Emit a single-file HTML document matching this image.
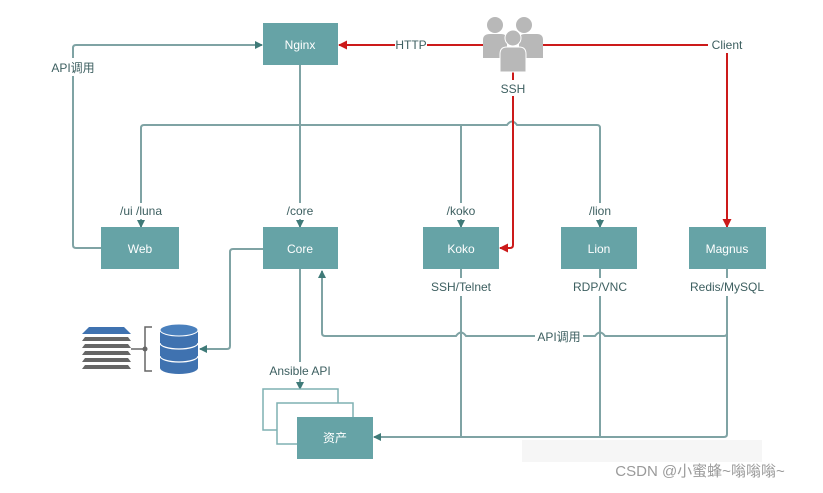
<!DOCTYPE html>
<html><head><meta charset="utf-8"><style>
html,body{margin:0;padding:0;background:#fff;}
svg{display:block;}
text{font-family:"Liberation Sans","Noto Sans CJK SC",sans-serif;}
</style></head><body>
<svg width="823" height="493" viewBox="0 0 823 493" xmlns="http://www.w3.org/2000/svg">
<defs>
<marker id="ag" markerWidth="8" markerHeight="8" refX="7" refY="4" orient="auto" markerUnits="userSpaceOnUse"><path d="M0,0 L8,4 L0,8 z" fill="#3f7a78"/></marker>
<marker id="ar" markerWidth="9" markerHeight="9" refX="8" refY="4.5" orient="auto" markerUnits="userSpaceOnUse"><path d="M0,0 L9,4.5 L0,9 z" fill="#cc1a1a"/></marker>
</defs>
<g fill="none" stroke="#7fa3a4" stroke-width="2">
<line x1="300" y1="65" x2="300" y2="125"/>
<path d="M141,203 L141,128 Q141,125 144,125 L507,125 Q512,118 517,125 L597,125 Q600,125 600,128 L600,203"/>
<line x1="300" y1="125" x2="300" y2="203"/>
<line x1="461" y1="125" x2="461" y2="203"/>
<line x1="141" y1="219" x2="141" y2="227" marker-end="url(#ag)"/>
<line x1="300" y1="219" x2="300" y2="227" marker-end="url(#ag)"/>
<line x1="461" y1="219" x2="461" y2="227" marker-end="url(#ag)"/>
<line x1="600" y1="219" x2="600" y2="227" marker-end="url(#ag)"/>
<path d="M101,248 L76,248 Q73,248 73,245 L73,48 Q73,45 76,45 L262,45" marker-end="url(#ag)"/>
<path d="M263,249 L233,249 Q230,249 230,252 L230,346 Q230,349 227,349 L200,349" marker-end="url(#ag)"/>
<line x1="300" y1="269" x2="300" y2="362"/>
<line x1="300" y1="378" x2="300" y2="389" marker-end="url(#ag)"/>
<path d="M727,296 L727,333 Q727,336 724,336 L605,336 Q600,329 595,336 L466,336 Q461,329 456,336 L325,336 Q322,336 322,333 L322,271" marker-end="url(#ag)"/>
<line x1="461" y1="269" x2="461" y2="278"/><line x1="461" y1="296" x2="461" y2="437"/>
<line x1="600" y1="269" x2="600" y2="278"/><line x1="600" y1="296" x2="600" y2="437"/>
<line x1="727" y1="269" x2="727" y2="278"/><line x1="727" y1="296" x2="727" y2="434"/>
<path d="M727,434 Q727,437 724,437 L374,437" marker-end="url(#ag)"/>
</g>
<g fill="none" stroke="#cc1a1a" stroke-width="2">
<line x1="483" y1="45" x2="339" y2="45" marker-end="url(#ar)"/>
<path d="M543,45 L727,45 L727,227" marker-end="url(#ar)"/>
<path d="M513,72 L513,245 Q513,248 510,248 L500,248" marker-end="url(#ar)"/>
</g>
<g fill="#fff">
<rect x="395" y="37" width="32" height="16"/><rect x="708" y="37" width="38" height="16"/>
<rect x="498" y="80" width="30" height="16"/><rect x="535" y="328" width="48" height="16"/>
<rect x="50" y="58" width="46" height="18"/><rect x="263" y="363" width="74" height="16"/>
</g>
<g font-size="12" fill="#3d5f60" text-anchor="middle">
<text x="411" y="49">HTTP</text><text x="727" y="49">Client</text>
<text x="513" y="93">SSH</text><text x="559" y="341">API调用</text>
<text x="73" y="72">API调用</text><text x="300" y="375">Ansible API</text>
<text x="141" y="215">/ui  /luna</text><text x="300" y="215">/core</text>
<text x="461" y="215">/koko</text><text x="600" y="215">/lion</text>
<text x="461" y="291">SSH/Telnet</text><text x="600" y="291">RDP/VNC</text><text x="727" y="291">Redis/MySQL</text>
</g>
<g fill="#66a3a6">
<rect x="263" y="23" width="75" height="42"/>
<rect x="101" y="227" width="78" height="42"/>
<rect x="263" y="227" width="75" height="42"/>
<rect x="423" y="227" width="76" height="42"/>
<rect x="561" y="227" width="76" height="42"/>
<rect x="689" y="227" width="77" height="42"/>
</g>
<rect x="263" y="389" width="75" height="41" fill="#fff" stroke="#7fb0b2" stroke-width="1.5"/>
<rect x="277" y="403" width="76" height="41" fill="#fff" stroke="#7fb0b2" stroke-width="1.5"/>
<rect x="297" y="417" width="76" height="42" fill="#66a3a6"/>
<g font-size="12" fill="#fff" text-anchor="middle">
<text x="300" y="49">Nginx</text><text x="140" y="253">Web</text><text x="300" y="253">Core</text>
<text x="461" y="253">Koko</text><text x="599" y="253">Lion</text><text x="727" y="253">Magnus</text>
<text x="335" y="442">资产</text>
</g>
<g fill="#b8b8b8">
<circle cx="495" cy="25" r="8"/><circle cx="524" cy="25" r="8"/>
<path d="M483,58 L483,40 Q483,34 490,34 L501,34 Q507,34 507,40 L507,58 z"/>
<path d="M519,58 L519,40 Q519,34 525,34 L537,34 Q543,34 543,40 L543,58 z"/>
<circle cx="513" cy="38" r="8" stroke="#fff" stroke-width="1"/>
<path d="M500,72 L500,54 Q500,47 507,47 L519,47 Q526,47 526,54 L526,72 z" stroke="#fff" stroke-width="1"/>
</g>
<g>
<path d="M160,330 L160,368 A19,6 0 0 0 198,368 L198,330 z" fill="#3f72b0"/>
<ellipse cx="179" cy="330" rx="19" ry="6" fill="#4a80bd" stroke="#fff" stroke-width="1"/>
<path d="M160,343 A19,6 0 0 0 198,343 M160,356 A19,6 0 0 0 198,356" fill="none" stroke="#fff" stroke-width="1.2"/>
<path d="M152,327 L145,327 L145,371 L152,371" fill="none" stroke="#666" stroke-width="1.5"/>
<line x1="131" y1="349" x2="145" y2="349" stroke="#666" stroke-width="1.5"/>
<circle cx="145" cy="349" r="2.5" fill="#666"/>
<path d="M89,327 L124,327 L131,334 L82,334 z" fill="#3f72b0"/>
<g fill="#666"><path d="M85,337 L128,337 L131,341 L82,341 z"/><path d="M85,344 L128,344 L131,348 L82,348 z"/><path d="M85,351 L128,351 L131,355 L82,355 z"/><path d="M85,358 L128,358 L131,362 L82,362 z"/><path d="M85,365 L128,365 L131,369 L82,369 z"/></g>
</g>
<rect x="522" y="440" width="240" height="22" fill="#f2f2f2" opacity="0.7"/>
<text x="700" y="476" font-size="15" fill="#9a9a9a" text-anchor="middle">CSDN @小蜜蜂~嗡嗡嗡~</text>
</svg>
</body></html>
